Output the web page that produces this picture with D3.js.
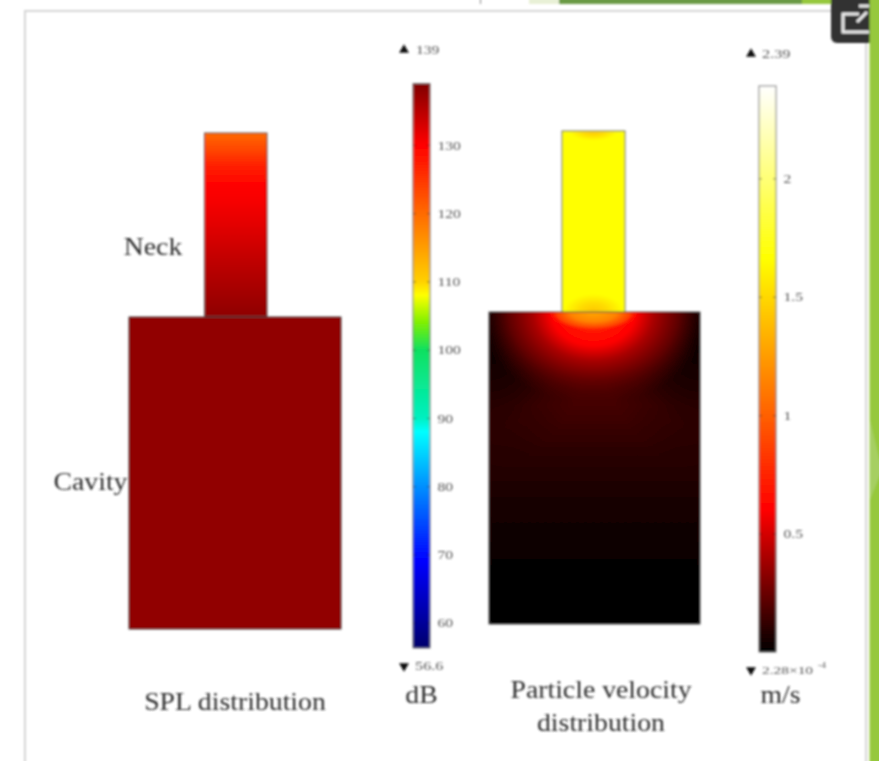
<!DOCTYPE html>
<html>
<head>
<meta charset="utf-8">
<script src="https://cdn.jsdelivr.net/npm/d3@7"></script>
<style>
  html, body { margin: 0; padding: 0; background: #fff; overflow: hidden; }
  svg { display: block; }
  .serif { font-family: "Liberation Serif", serif; fill: #2e2e2e; }
  .small { font-family: "Liberation Serif", serif; font-size: 13px; fill: #555; }
</style>
</head>
<body>
<svg id="chart" width="879" height="761"></svg>
<script>
// SPL colour bar
const splTicks = [60, 70, 80, 90, 100, 110, 120, 130];
const splColorValues = [56.6, 60, 69, 80, 88, 90, 100, 104, 108, 110, 120, 130, 139];
const splColors = ['#00006e', '#00009a', '#0000ff', '#0090ff', '#00ffff', '#00f0c0', '#10e060', '#80f000', '#ffff00', '#ffd000', '#ff6a00', '#ff0000', '#800000'];
const splMin = '56.6';
const splMax = '139';

// SPL read down the neck, top to bottom (fraction of neck height, dB)
const neckSplAt = [0, 0.08, 0.18, 0.27, 0.36, 0.5, 0.74, 1];
const neckSpl = [120, 123, 127, 129.5, 130.5, 132, 135, 138];
const cavitySpl = 137.8;

// velocity colour bar
const velTicks = [0.5, 1, 1.5, 2];
const velColorValues = [0.000228, 0.6, 1.66, 2.39];
const velColors = ['#000000', '#ff0000', '#ffff00', '#ffffff'];

// velocity read down the cavity centre, far from the mouth (fraction of height, m/s)
const cavityAt = [0, 0.3, 0.45, 0.6, 0.72, 0.85, 1];
const cavityVel = [0.16, 0.16, 0.1, 0.06, 0.03, 0.005, 0];

// glow under the neck mouth (fraction of radius, m/s, opacity)
const glowAt = [0, 0.36, 0.52, 0.73, 1];
const glowVel = [0.8, 0.6, 0.4, 0.25, 0.17];
const glowOpacity = [1, 1, 1, 0.9, 0];

// flat orange lobe right at the mouth
const lobeAt = [0, 0.5, 0.8, 1];
const lobeVel = [1.3, 1.15, 0.9, 0.65];
const lobeOpacity = [1, 1, 0.9, 0];

// dark top corners of the cavity
const cornerAt = [0, 0.2, 0.5, 0.75, 1];
const cornerOpacity = [1, 0.9, 0.55, 0.2, 0];

const neckVel = 1.66;
const neckEndAt = [0, 0.5, 1];
const neckEndVel = [1.42, 1.52, 1.66];

const labels = [
  { text: ['Neck'], x: 153, y: 255 },
  { text: ['Cavity'], x: 90.5, y: 490 },
  { text: ['SPL distribution'], x: 235, y: 710 },
  { text: ['dB'], x: 421.5, y: 703 },
  { text: ['Particle velocity', 'distribution'], x: 601, y: 698 },
  { text: ['m/s'], x: 780.5, y: 703 }
];

const svg = d3.select('#chart');
const defs = svg.append('defs');

defs.append('filter')
  .attr('id', 'soft')
  .attr('x', '-10%').attr('y', '-10%').attr('width', '120%').attr('height', '120%')
  .append('feGaussianBlur')
  .attr('stdDeviation', 0.85);

const splColor = d3.scaleLinear().domain(splColorValues).range(splColors);
const velColor = d3.scaleLinear().domain(velColorValues).range(velColors);

// the source image is stretched sideways, so widen the glyphs to match
function stretch(sel, k) {
  sel.each(function() {
    this.setAttribute('textLength', this.getComputedTextLength() * k);
    this.setAttribute('lengthAdjust', 'spacingAndGlyphs');
  });
}

function linearGradient(id, at, colors) {
  const g = defs.append('linearGradient')
    .attr('id', id)
    .attr('x1', 0).attr('y1', 0).attr('x2', 0).attr('y2', 1);
  g.selectAll('stop')
    .data(at)
    .enter()
      .append('stop')
      .attr('offset', d => d)
      .attr('stop-color', (d, i) => colors[i]);
}

function radialGradient(id, cx, cy, r, scaleY, at, colors, opacity) {
  const g = defs.append('radialGradient')
    .attr('id', id)
    .attr('gradientUnits', 'userSpaceOnUse')
    .attr('cx', 0).attr('cy', 0).attr('r', r)
    .attr('gradientTransform', `translate(${cx},${cy}) scale(1,${scaleY})`);
  g.selectAll('stop')
    .data(at)
    .enter()
      .append('stop')
      .attr('offset', d => d)
      .attr('stop-color', (d, i) => colors[i])
      .attr('stop-opacity', (d, i) => opacity ? opacity[i] : 1);
}

// page frame behind the chart
const page = svg.append('g').attr('filter', 'url(#soft)');
page.append('rect').attr('x', 25).attr('y', 11).attr('width', 841).attr('height', 760)
  .attr('fill', '#fff').attr('stroke', '#d4d4d4').attr('stroke-width', 2);

const chart = svg.append('g').attr('filter', 'url(#soft)');

function box(r, fill, stroke) {
  return chart.append('rect')
    .attr('x', r.x).attr('y', r.y).attr('width', r.w).attr('height', r.h)
    .attr('fill', fill)
    .attr('stroke', stroke || 'none')
    .attr('stroke-width', 1);
}

// left panel: SPL
const leftNeck = { x: 204.5, y: 133, w: 62.5, h: 184 };
const leftCavity = { x: 129, y: 317, w: 212, h: 312 };
linearGradient('splNeck', neckSplAt, neckSpl.map(splColor));
box(leftNeck, 'url(#splNeck)', '#555');
box(leftCavity, splColor(cavitySpl), '#444');

// right panel: velocity
const rightNeck = { x: 562, y: 131, w: 63, h: 181 };
const rightCavity = { x: 489, y: 312, w: 211, h: 312 };
const mouthX = rightNeck.x + rightNeck.w / 2;

linearGradient('velCavity', cavityAt, cavityVel.map(velColor));
radialGradient('velGlow', mouthX, rightCavity.y, 116, 0.8, glowAt, glowVel.map(velColor), glowOpacity);
radialGradient('velLobe', mouthX, rightCavity.y, 46, 0.42, lobeAt, lobeVel.map(velColor), lobeOpacity);
radialGradient('velNeckBottom', mouthX, rightCavity.y, 30, 0.6, neckEndAt, neckEndVel.map(velColor));
radialGradient('velNeckTop', mouthX, rightNeck.y, 24, 0.4, neckEndAt, neckEndVel.map(velColor));
radialGradient('velCornerL', rightCavity.x, rightCavity.y, 105, 1.5, cornerAt, cornerAt.map(() => '#000'), cornerOpacity);
radialGradient('velCornerR', rightCavity.x + rightCavity.w, rightCavity.y, 105, 1.5, cornerAt, cornerAt.map(() => '#000'), cornerOpacity);

box(rightNeck, velColor(neckVel), '#666');
box({ x: rightNeck.x + 1, y: rightCavity.y - 18, w: rightNeck.w - 2, h: 18 }, 'url(#velNeckBottom)');
box({ x: rightNeck.x + 1, y: rightNeck.y + 1, w: rightNeck.w - 2, h: 9 }, 'url(#velNeckTop)');
box(rightCavity, 'url(#velCavity)');
box(rightCavity, 'url(#velCornerL)');
box(rightCavity, 'url(#velCornerR)');
box(rightCavity, 'url(#velGlow)');
box(rightCavity, 'url(#velLobe)');
box(rightCavity, 'none', '#555');

// colour bars
function colorBar(opts) {
  const { id, x, top, bottom, domain, color, stops, ticks, tickFormat } = opts;
  const width = 17;
  const y = d3.scaleLinear().domain(domain).range([bottom, top]);

  const grad = defs.append('linearGradient')
    .attr('id', id)
    .attr('gradientUnits', 'userSpaceOnUse')
    .attr('x1', 0).attr('y1', bottom).attr('x2', 0).attr('y2', top);
  grad.selectAll('stop')
    .data(stops)
    .enter()
      .append('stop')
      .attr('offset', d => (d - domain[0]) / (domain[1] - domain[0]))
      .attr('stop-color', d => color(d));

  chart.append('rect')
    .attr('x', x).attr('y', top).attr('width', width).attr('height', bottom - top)
    .attr('fill', `url(#${id})`).attr('stroke', '#777').attr('stroke-width', 1);

  const axis = chart.append('g')
    .attr('transform', `translate(${x + width},0)`)
    .call(d3.axisRight(y).tickValues(ticks).tickFormat(tickFormat).tickSize(-width).tickPadding(7.5));
  axis.select('.domain').remove();
  axis.selectAll('.tick line')
    .attr('stroke', '#333').attr('stroke-opacity', 0.55)
    .attr('stroke-dasharray', '3 11 3');
  axis.selectAll('.tick text')
    .attr('class', 'small')
    .call(stretch, 1.2);
  axis.attr('font-family', null).attr('font-size', null);
}

colorBar({
  id: 'splBar', x: 413, top: 83.5, bottom: 648,
  domain: [56.3, 139], color: splColor, stops: splColorValues,
  ticks: splTicks, tickFormat: d3.format('d')
});
colorBar({
  id: 'velBar', x: 759, top: 86, bottom: 652,
  domain: [0, 2.39], color: velColor, stops: velColorValues,
  ticks: velTicks, tickFormat: d => String(d)
});

// min / max markers
const tri = d3.symbol().type(d3.symbolTriangle).size(42);
function marker(x, y, flip) {
  chart.append('path')
    .attr('d', tri())
    .attr('transform', `translate(${x},${y}) rotate(${flip ? 180 : 0})`)
    .attr('fill', '#111');
}
function small(text, x, y, k, size) {
  chart.append('text')
    .attr('class', 'small')
    .attr('x', x).attr('y', y)
    .style('font-size', size ? size + 'px' : null)
    .text(text)
    .call(stretch, k);
}
marker(404, 50, false);
small(splMax, 416, 54, 1.2);
marker(404, 666, true);
small(splMin, 415, 670, 1.25);
marker(751, 54, false);
small('2.39', 762, 58, 1.25);
marker(751, 670, true);
small('2.28×10', 762, 674, 1.4, 11);
small('-4', 818, 668, 1.2, 8);

// labels
labels.forEach(l => {
  l.text.forEach((line, i) => {
    chart.append('text')
      .attr('class', 'serif')
      .attr('text-anchor', 'middle')
      .attr('font-size', 25)
      .attr('x', l.x)
      .attr('y', l.y + i * 33)
      .text(line)
      .call(stretch, 1.11);
  });
});

// bits of the host page cropped into the screenshot
const strip = svg.append('g').attr('filter', 'url(#soft)');
strip.append('rect').attr('x', 529).attr('y', -3).attr('width', 32).attr('height', 7).attr('fill', '#e8f0d6');
strip.append('rect').attr('x', 559).attr('y', -3).attr('width', 244).attr('height', 7).attr('fill', '#6b9a45');
strip.append('rect').attr('x', 802).attr('y', -3).attr('width', 80).attr('height', 7).attr('fill', '#96c83c');
strip.append('rect').attr('x', 480).attr('y', -3).attr('width', 1).attr('height', 7).attr('fill', '#888');
strip.append('rect').attr('x', 831).attr('y', -8).attr('width', 50).attr('height', 51).attr('rx', 6).attr('fill', '#333');
strip.append('path')
  .attr('d', 'M859,14 H843 V32 H869 M859,6 L869,6 M857,22 L867,12')
  .attr('fill', 'none').attr('stroke', '#eee').attr('stroke-width', 3);
strip.append('rect').attr('x', 869.5).attr('y', -3).attr('width', 14).attr('height', 770).attr('fill', '#96c83c');
strip.append('path').attr('d', 'M870,420 L882,470 L870,500 Z').attr('fill', '#a6cf62');
</script>
</body>
</html>
